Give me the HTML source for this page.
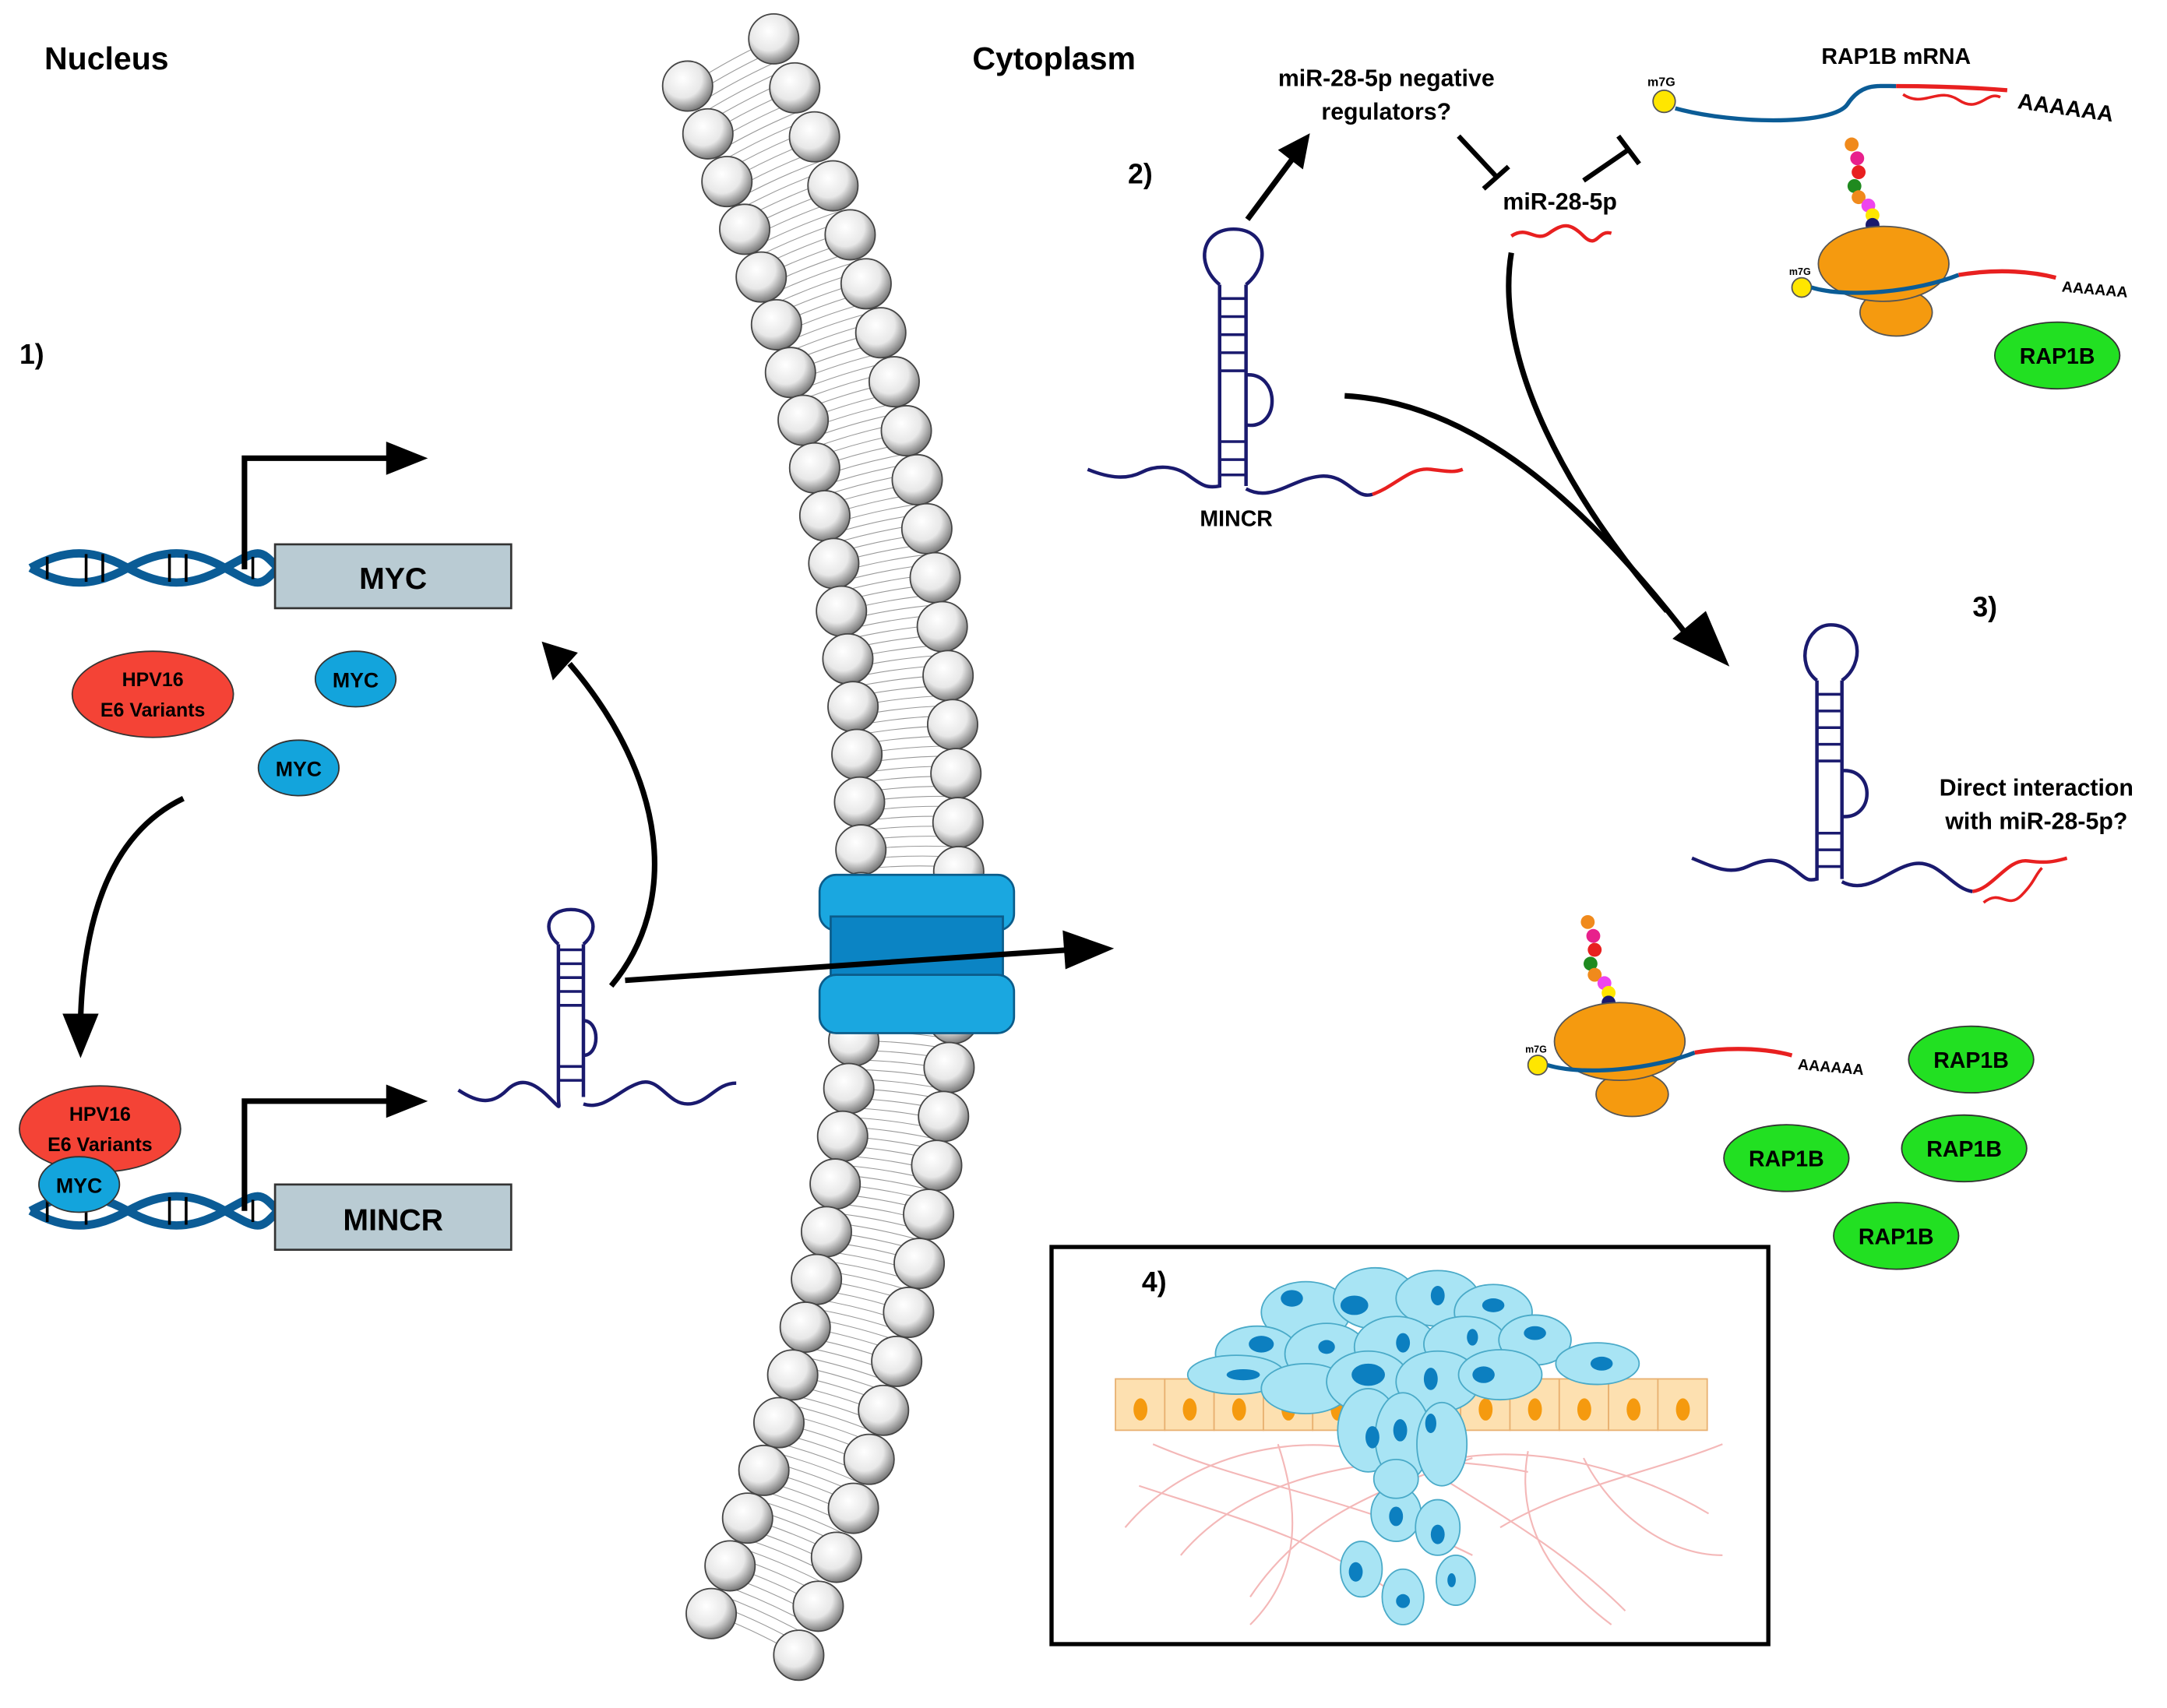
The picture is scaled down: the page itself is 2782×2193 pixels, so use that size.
<!DOCTYPE html>
<html><head><meta charset="utf-8"><style>
html,body{margin:0;padding:0;background:#fff;}
svg{display:block;}
text{font-family:"Liberation Sans",Arial,sans-serif;font-weight:bold;}
</style></head><body>
<svg id="s" width="2782" height="2193" viewBox="0 0 1560 1230" preserveAspectRatio="none" xmlns="http://www.w3.org/2000/svg">
<defs>
<radialGradient id="ball" cx="0.4" cy="0.35" r="0.7">
<stop offset="0" stop-color="#ffffff"/><stop offset="0.55" stop-color="#e8e8e8"/><stop offset="1" stop-color="#6a6a6a"/>
</radialGradient>
</defs>
<rect width="1560" height="1230" fill="#fff"/>
<g id="mem"></g>

<!-- channel -->
<rect x="590" y="630" width="140" height="40" rx="12" fill="#1aa7e0" stroke="#0b5c8a" stroke-width="1.5"/>
<rect x="598" y="660" width="124" height="52" fill="#0b84c4" stroke="#0b5c8a" stroke-width="1.5"/>
<rect x="590" y="702" width="140" height="42" rx="12" fill="#1aa7e0" stroke="#0b5c8a" stroke-width="1.5"/>

<text x="32" y="50" font-size="23">Nucleus</text>
<text x="700" y="50" font-size="23">Cytoplasm</text>
<text x="14" y="262" font-size="20">1)</text>
<text x="812" y="132" font-size="20">2)</text>
<text x="1420" y="444" font-size="20">3)</text>

<!-- DNA MYC -->
<g transform="translate(22,395)">
<path d="M0,14 C25,0 45,0 70,14 S115,28 140,14 S165,0 178,14" fill="none" stroke="#0b5c96" stroke-width="6"/>
<path d="M0,14 C25,28 45,28 70,14 S115,0 140,14 S165,28 178,14" fill="none" stroke="#0b5c96" stroke-width="6"/>
<g stroke="#000" stroke-width="2"><line x1="12" y1="6" x2="12" y2="22"/><line x1="40" y1="4" x2="40" y2="24"/><line x1="52" y1="4" x2="52" y2="24"/><line x1="100" y1="4" x2="100" y2="24"/><line x1="112" y1="4" x2="112" y2="24"/><line x1="160" y1="6" x2="160" y2="22"/></g>
</g>
<rect x="198" y="392" width="170" height="46" fill="#b9cbd3" stroke="#333" stroke-width="1.5"/>
<text x="283" y="424" font-size="22" text-anchor="middle">MYC</text>
<path d="M176,410 V330 H285" fill="none" stroke="#000" stroke-width="4"/>
<path d="M278,318 L308,330 L278,342z"/>

<ellipse cx="110" cy="500" rx="58" ry="31" fill="#f44336" stroke="#333"/>
<text x="110" y="494" font-size="14" text-anchor="middle">HPV16</text>
<text x="110" y="516" font-size="14" text-anchor="middle">E6 Variants</text>
<ellipse cx="256" cy="489" rx="29" ry="20" fill="#13a4dc" stroke="#333"/>
<text x="256" y="495" font-size="15" text-anchor="middle">MYC</text>
<ellipse cx="215" cy="553" rx="29" ry="20" fill="#13a4dc" stroke="#333"/>
<text x="215" y="559" font-size="15" text-anchor="middle">MYC</text>

<path d="M132,575 C80,600 60,660 58,735" fill="none" stroke="#000" stroke-width="4"/>
<path d="M45,730 L58,762 L71,730z"/>

<!-- DNA MINCR -->
<g transform="translate(22,858)">
<path d="M0,14 C25,0 45,0 70,14 S115,28 140,14 S165,0 178,14" fill="none" stroke="#0b5c96" stroke-width="6"/>
<path d="M0,14 C25,28 45,28 70,14 S115,0 140,14 S165,28 178,14" fill="none" stroke="#0b5c96" stroke-width="6"/>
<g stroke="#000" stroke-width="2"><line x1="12" y1="6" x2="12" y2="22"/><line x1="40" y1="4" x2="40" y2="24"/><line x1="100" y1="4" x2="100" y2="24"/><line x1="112" y1="4" x2="112" y2="24"/><line x1="160" y1="6" x2="160" y2="22"/></g>
</g>
<rect x="198" y="853" width="170" height="47" fill="#b9cbd3" stroke="#333" stroke-width="1.5"/>
<text x="283" y="886" font-size="22" text-anchor="middle">MINCR</text>
<path d="M176,872 V793 H285" fill="none" stroke="#000" stroke-width="4"/>
<path d="M278,781 L308,793 L278,805z"/>
<ellipse cx="72" cy="813" rx="58" ry="31" fill="#f44336" stroke="#333"/>
<text x="72" y="807" font-size="14" text-anchor="middle">HPV16</text>
<text x="72" y="829" font-size="14" text-anchor="middle">E6 Variants</text>
<ellipse cx="57" cy="853" rx="29" ry="20" fill="#13a4dc" stroke="#333"/>
<text x="57" y="859" font-size="15" text-anchor="middle">MYC</text>

<!-- small hairpin -->
<g fill="none" stroke="#1a1a6e" stroke-width="2.5">
<path d="M330,785 C345,795 355,795 365,785 S385,780 395,790 S402,798 402,790 V680 M420,790 V680"/>
<path d="M402,680 C390,670 394,655 411,655 C428,655 432,670 420,680"/>
<path d="M420,735 C432,735 432,760 420,760"/>
<path d="M420,795 C435,800 445,785 460,780 S480,795 495,795 S515,780 530,780"/>
<g stroke-width="2"><line x1="402" y1="684" x2="420" y2="684"/><line x1="402" y1="694" x2="420" y2="694"/><line x1="402" y1="704" x2="420" y2="704"/><line x1="402" y1="714" x2="420" y2="714"/><line x1="402" y1="724" x2="420" y2="724"/><line x1="402" y1="768" x2="420" y2="768"/><line x1="402" y1="778" x2="420" y2="778"/></g>
</g>
<path d="M440,710 C490,650 480,560 410,478" fill="none" stroke="#000" stroke-width="4"/>
<path d="M390,462 L416,470 L398,490z"/>
<path d="M450,706 L770,684" fill="none" stroke="#000" stroke-width="4"/>
<path d="M765,670 L802,683 L767,698z"/>

<!-- big hairpin 1 -->
<g fill="none" stroke="#1a1a6e" stroke-width="2.5">
<path d="M783,338 C800,345 812,345 822,340 S845,335 855,342 S868,352 878,350 V205 M897,350 V205"/>
<path d="M878,205 C860,190 865,165 888,165 C912,165 915,190 897,205"/>
<path d="M897,270 C922,268 922,310 897,306"/>
<path d="M897,352 C915,362 930,345 950,343 S975,360 988,356"/>
<path d="M988,356 C1005,350 1015,336 1030,338 S1048,340 1053,338" stroke="#e82020"/>
<g stroke-width="2"><line x1="878" y1="215" x2="897" y2="215"/><line x1="878" y1="228" x2="897" y2="228"/><line x1="878" y1="241" x2="897" y2="241"/><line x1="878" y1="254" x2="897" y2="254"/><line x1="878" y1="267" x2="897" y2="267"/><line x1="878" y1="318" x2="897" y2="318"/><line x1="878" y1="331" x2="897" y2="331"/><line x1="878" y1="342" x2="897" y2="342"/></g>
</g>
<text x="890" y="379" font-size="16" text-anchor="middle">MINCR</text>
<path d="M898,158 L930,115" stroke="#000" stroke-width="4"/>
<path d="M920,108 L943,96 L938,122z"/>
<text x="998" y="62" font-size="17" text-anchor="middle">miR-28-5p negative</text>
<text x="998" y="86" font-size="17" text-anchor="middle">regulators?</text>
<path d="M1050,98 L1078,128" stroke="#000" stroke-width="3.5"/>
<path d="M1068,136 L1086,120" stroke="#000" stroke-width="3.5"/>
<text x="1123" y="151" font-size="17" text-anchor="middle">miR-28-5p</text>
<path d="M1088,170 C1100,162 1105,175 1115,168 S1130,160 1140,170 S1150,165 1160,168" fill="none" stroke="#e82020" stroke-width="2.5"/>
<path d="M1140,130 L1172,108" stroke="#000" stroke-width="3.5"/>
<path d="M1165,98 L1180,118" stroke="#000" stroke-width="3.5"/>
<path d="M968,285 C1060,290 1140,360 1218,462" fill="none" stroke="#000" stroke-width="4"/>
<path d="M1204,460 L1245,480 L1228,440z"/>
<path d="M1088,182 C1075,260 1130,360 1200,440" fill="none" stroke="#000" stroke-width="4"/>

<!-- RAP1B mRNA top -->
<text x="1365" y="46" font-size="16" text-anchor="middle">RAP1B mRNA</text>
<circle cx="1198" cy="73" r="8" fill="#ffe600" stroke="#555"/>
<text x="1186" y="62" font-size="9">m7G</text>
<path d="M1206,78 C1250,90 1320,90 1330,75 S1350,62 1365,62" fill="none" stroke="#0b5c96" stroke-width="3"/>
<path d="M1365,62 C1390,62 1420,63 1445,65" fill="none" stroke="#e82020" stroke-width="3"/>
<path d="M1370,68 C1385,78 1395,62 1410,72 S1430,65 1440,70" fill="none" stroke="#e82020" stroke-width="2"/>
<text x="1452" y="78" font-size="16" font-weight="normal" transform="rotate(8 1452 78)">AAAAAA</text>

<!-- ribosome top -->
<g>
<circle cx="1333" cy="104" r="5" fill="#f08a1c"/><circle cx="1337" cy="114" r="5" fill="#e8208c"/><circle cx="1338" cy="124" r="5" fill="#e82020"/><circle cx="1335" cy="134" r="5" fill="#1f8a1f"/><circle cx="1338" cy="142" r="5" fill="#f08a1c"/><circle cx="1345" cy="148" r="5" fill="#ee44ee"/><circle cx="1348" cy="155" r="5" fill="#ffe600"/><circle cx="1348" cy="162" r="5" fill="#1a1a6e"/>
<ellipse cx="1365" cy="225" rx="26" ry="17" fill="#f59a0f" stroke="#555"/>
<ellipse cx="1356" cy="190" rx="47" ry="27" fill="#f59a0f" stroke="#555"/>
<circle cx="1297" cy="207" r="7" fill="#ffe600" stroke="#555"/>
<text x="1288" y="198" font-size="7">m7G</text>
<path d="M1304,207 C1330,215 1380,210 1410,198" fill="none" stroke="#0b5c96" stroke-width="3"/>
<path d="M1410,198 C1440,193 1465,196 1480,200" fill="none" stroke="#e82020" stroke-width="3"/>
<text x="1484" y="210" font-size="11" font-weight="normal" transform="rotate(5 1484 210)">AAAAAA</text>
</g>
<ellipse cx="1481" cy="256" rx="45" ry="24" fill="#22e022" stroke="#333"/>
<text x="1481" y="262" font-size="16" text-anchor="middle">RAP1B</text>

<!-- hairpin 2 -->
<g fill="none" stroke="#1a1a6e" stroke-width="2.5">
<path d="M1218,618 C1235,625 1245,630 1258,624 S1280,618 1290,625 S1300,635 1308,633 V490 M1326,633 V490"/>
<path d="M1308,490 C1292,478 1300,450 1318,450 C1340,450 1343,478 1326,490"/>
<path d="M1326,555 C1350,553 1350,590 1326,588"/>
<path d="M1326,635 C1345,645 1360,625 1378,622 S1405,640 1420,642"/>
<path d="M1420,642 C1435,640 1445,618 1460,620 S1480,620 1488,618" stroke="#e82020"/>
<path d="M1428,650 C1440,640 1445,655 1455,645 S1465,630 1470,625" stroke="#e82020" stroke-width="2"/>
<g stroke-width="2"><line x1="1308" y1="500" x2="1326" y2="500"/><line x1="1308" y1="512" x2="1326" y2="512"/><line x1="1308" y1="524" x2="1326" y2="524"/><line x1="1308" y1="536" x2="1326" y2="536"/><line x1="1308" y1="548" x2="1326" y2="548"/><line x1="1308" y1="600" x2="1326" y2="600"/><line x1="1308" y1="612" x2="1326" y2="612"/><line x1="1308" y1="624" x2="1326" y2="624"/></g>
</g>
<text x="1466" y="573" font-size="17" text-anchor="middle">Direct interaction</text>
<text x="1466" y="597" font-size="17" text-anchor="middle">with miR-28-5p?</text>

<!-- ribosome 2 -->
<g transform="translate(-190,560)">
<circle cx="1333" cy="104" r="5" fill="#f08a1c"/><circle cx="1337" cy="114" r="5" fill="#e8208c"/><circle cx="1338" cy="124" r="5" fill="#e82020"/><circle cx="1335" cy="134" r="5" fill="#1f8a1f"/><circle cx="1338" cy="142" r="5" fill="#f08a1c"/><circle cx="1345" cy="148" r="5" fill="#ee44ee"/><circle cx="1348" cy="155" r="5" fill="#ffe600"/><circle cx="1348" cy="162" r="5" fill="#1a1a6e"/>
<ellipse cx="1365" cy="228" rx="26" ry="16" fill="#f59a0f" stroke="#555"/>
<ellipse cx="1356" cy="190" rx="47" ry="28" fill="#f59a0f" stroke="#555"/>
<circle cx="1297" cy="207" r="7" fill="#ffe600" stroke="#555"/>
<text x="1288" y="198" font-size="7">m7G</text>
<path d="M1304,207 C1330,215 1380,210 1410,198" fill="none" stroke="#0b5c96" stroke-width="3"/>
<path d="M1410,198 C1440,193 1465,196 1480,200" fill="none" stroke="#e82020" stroke-width="3"/>
<text x="1484" y="210" font-size="11" font-weight="normal" transform="rotate(5 1484 210)">AAAAAA</text>
</g>
<g font-size="16" text-anchor="middle">
<ellipse cx="1419" cy="763" rx="45" ry="24" fill="#22e022" stroke="#333"/><text x="1419" y="769">RAP1B</text>
<ellipse cx="1414" cy="827" rx="45" ry="24" fill="#22e022" stroke="#333"/><text x="1414" y="833">RAP1B</text>
<ellipse cx="1286" cy="834" rx="45" ry="24" fill="#22e022" stroke="#333"/><text x="1286" y="840">RAP1B</text>
<ellipse cx="1365" cy="890" rx="45" ry="24" fill="#22e022" stroke="#333"/><text x="1365" y="896">RAP1B</text>
</g>

<!-- box 4 -->
<rect x="757" y="898" width="516" height="286" fill="#fff" stroke="#000" stroke-width="3"/>
<text x="822" y="930" font-size="20">4)</text>
<g stroke="#f4b8b8" stroke-width="1.2" fill="none">
<path d="M810,1100 C860,1040 950,1030 1000,1050"/><path d="M830,1040 C900,1070 980,1080 1060,1120"/><path d="M850,1120 C900,1060 1000,1040 1100,1060"/><path d="M900,1150 C940,1090 1000,1070 1060,1050"/><path d="M1000,1040 C1060,1080 1120,1110 1170,1160"/><path d="M1050,1050 C1110,1040 1180,1060 1230,1090"/><path d="M1080,1100 C1130,1070 1190,1060 1240,1040"/><path d="M920,1040 C940,1100 930,1140 900,1170"/><path d="M1100,1045 C1090,1100 1120,1140 1160,1170"/><path d="M820,1070 C880,1090 960,1110 1020,1160"/><path d="M1140,1050 C1160,1090 1200,1120 1240,1120"/>
</g>
<g id="epi"></g>
<g fill="#a8e4f4" stroke="#4aaac8" stroke-width="1">
<ellipse cx="940" cy="945" rx="32" ry="22"/><ellipse cx="990" cy="935" rx="30" ry="22"/><ellipse cx="1035" cy="935" rx="30" ry="20"/><ellipse cx="1075" cy="945" rx="28" ry="20"/>
<ellipse cx="905" cy="975" rx="30" ry="20"/><ellipse cx="955" cy="975" rx="30" ry="22"/><ellipse cx="1005" cy="970" rx="30" ry="22"/><ellipse cx="1055" cy="968" rx="30" ry="20"/><ellipse cx="1105" cy="965" rx="26" ry="18"/>
<ellipse cx="890" cy="990" rx="35" ry="14"/><ellipse cx="940" cy="1000" rx="32" ry="18"/><ellipse cx="985" cy="995" rx="30" ry="22"/><ellipse cx="1035" cy="995" rx="30" ry="22"/><ellipse cx="1080" cy="990" rx="30" ry="18"/><ellipse cx="1150" cy="982" rx="30" ry="15"/>
<ellipse cx="985" cy="1030" rx="22" ry="30"/><ellipse cx="1010" cy="1035" rx="20" ry="32"/><ellipse cx="1038" cy="1040" rx="18" ry="30"/>
<ellipse cx="1005" cy="1090" rx="18" ry="20"/><ellipse cx="1035" cy="1100" rx="16" ry="20"/><ellipse cx="980" cy="1130" rx="15" ry="20"/><ellipse cx="1010" cy="1150" rx="15" ry="20"/><ellipse cx="1048" cy="1138" rx="14" ry="18"/><ellipse cx="1005" cy="1065" rx="16" ry="14"/>
</g>
<g fill="#0c7fc0">
<ellipse cx="930" cy="935" rx="8" ry="6"/><ellipse cx="975" cy="940" rx="10" ry="7"/><ellipse cx="1035" cy="933" rx="5" ry="7"/><ellipse cx="1075" cy="940" rx="8" ry="5"/><ellipse cx="908" cy="968" rx="9" ry="6"/><ellipse cx="955" cy="970" rx="6" ry="5"/><ellipse cx="1010" cy="967" rx="5" ry="7"/><ellipse cx="1060" cy="963" rx="4" ry="6"/><ellipse cx="1105" cy="960" rx="8" ry="5"/><ellipse cx="895" cy="990" rx="12" ry="4"/><ellipse cx="985" cy="990" rx="12" ry="8"/><ellipse cx="1030" cy="993" rx="5" ry="8"/><ellipse cx="1068" cy="990" rx="8" ry="6"/><ellipse cx="1153" cy="982" rx="8" ry="5"/><ellipse cx="988" cy="1035" rx="5" ry="8"/><ellipse cx="1008" cy="1030" rx="5" ry="8"/><ellipse cx="1030" cy="1025" rx="4" ry="7"/><ellipse cx="1005" cy="1092" rx="5" ry="7"/><ellipse cx="1035" cy="1105" rx="5" ry="7"/><ellipse cx="976" cy="1132" rx="5" ry="7"/><ellipse cx="1010" cy="1153" rx="5" ry="5"/><ellipse cx="1045" cy="1138" rx="3" ry="5"/>
</g>
</svg>
<script>
(function(){
var NS="http://www.w3.org/2000/svg";
var mem=document.getElementById("mem");
function q(p0,c,p2,t){var u=1-t;return [u*u*p0[0]+2*u*t*c[0]+t*t*p2[0],u*u*p0[1]+2*u*t*c[1]+t*t*p2[1]];}
function el(n,a,par){var e=document.createElementNS(NS,n);for(var k in a)e.setAttribute(k,a[k]);par.appendChild(e);return e;}
var L=[[495,62],[736,612],[512,1162]], R=[[557,28],[814,610],[575,1192]];
var tails=el("g",{stroke:"#999","stroke-width":"0.6",fill:"none"},mem);
for(var i=0;i<=160;i++){var t=i/160;var a=q(L[0],L[1],L[2],t),b=q(R[0],R[1],R[2],t);
var mx=(a[0]+b[0])/2,my=(a[1]+b[1])/2;
el("path",{d:"M"+a[0]+","+a[1]+" Q"+(mx)+","+(my-3)+" "+b[0]+","+b[1]},tails);}
function row(P,n){for(var i=0;i<n;i++){var p=q(P[0],P[1],P[2],i/(n-1));
el("circle",{cx:p[0],cy:p[1],r:18,fill:"url(#ball)",stroke:"#444","stroke-width":"1"},mem);}}
row(L,33);row(R,34);
var epi=document.getElementById("epi");
for(var j=0;j<12;j++){var x=803+j*35.5;
el("rect",{x:x,y:993,width:35.5,height:37,fill:"#fde0b0",stroke:"#e8b070","stroke-width":"1"},epi);
el("ellipse",{cx:x+18,cy:1015,rx:5,ry:8,fill:"#f59a0f"},epi);}
})();
</script>
</body></html>
